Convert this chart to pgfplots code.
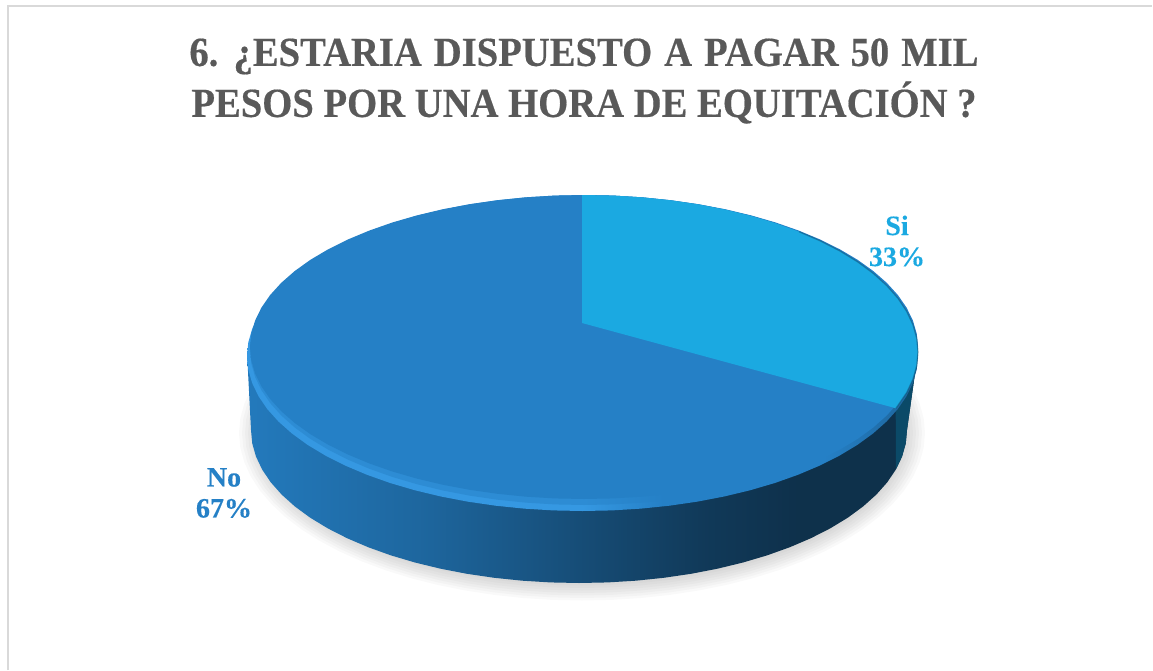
\documentclass[border=0pt]{standalone}
\usepackage{pgfplots}
\usepackage{pgfplotstable}
\usepackage{fontspec}
\pgfplotsset{compat=1.18}
\setmainfont{Liberation Serif}
\newfontfamily\titlefont[FakeStretch=0.935,FakeBold=0.4]{Liberation Serif}
\newfontfamily\labelfont[FakeBold=0.3]{Liberation Serif}

\definecolor{sicol}{HTML}{1BA9E1}
\definecolor{nocol}{HTML}{2580C6}
\definecolor{teal}{HTML}{0B4A68}
\definecolor{titlecol}{HTML}{595959}
\definecolor{framecol}{HTML}{D9D9D9}

% side wall of the pie, left to right (bbox maps on 25bp..75bp)
\pgfdeclarehorizontalshading{wall}{100bp}{
  color(0bp)=(black!0!nocol);
  color(25bp)=(black!5!nocol);
  color(38bp)=(black!20!nocol);
  color(51bp)=(black!42!nocol);
  color(59bp)=(black!55!nocol);
  color(66bp)=(black!62!nocol);
  color(100bp)=(black!62!nocol)}
% light rim of the top face, fades to the right
\definecolor{rimcol}{HTML}{3598E2}
\pgfdeclarehorizontalshading{rim}{100bp}{
  color(0bp)=(rimcol);
  color(25bp)=(rimcol);
  color(50bp)=(rimcol);
  color(56bp)=(nocol);
  color(68bp)=(nocol);
  color(76bp)=(black!25!nocol);
  color(100bp)=(black!25!nocol)}
\pgfdeclarehorizontalshading{rimsoft}{100bp}{
  color(0bp)=(rimcol!50!nocol);
  color(50bp)=(rimcol!50!nocol);
  color(56bp)=(nocol);
  color(100bp)=(nocol)}

% unit ellipse, 5 degree steps
\pgfplotstableread{
c s
1 0
.9962 .0872
.9848 .1736
.9659 .2588
.9397 .3420
.9063 .4226
.8660 .5
.8192 .5736
.7660 .6428
.7071 .7071
.6428 .7660
.5736 .8192
.5 .8660
.4226 .9063
.3420 .9397
.2588 .9659
.1736 .9848
.0872 .9962
0 1
-.0872 .9962
-.1736 .9848
-.2588 .9659
-.3420 .9397
-.4226 .9063
-.5 .8660
-.5736 .8192
-.6428 .7660
-.7071 .7071
-.7660 .6428
-.8192 .5736
-.8660 .5
-.9063 .4226
-.9397 .3420
-.9659 .2588
-.9848 .1736
-.9962 .0872
-1 0
-.9962 -.0872
-.9848 -.1736
-.9659 -.2588
-.9397 -.3420
-.9063 -.4226
-.8660 -.5
-.8192 -.5736
-.7660 -.6428
-.7071 -.7071
-.6428 -.7660
-.5736 -.8192
-.5 -.8660
-.4226 -.9063
-.3420 -.9397
-.2588 -.9659
-.1736 -.9848
-.0872 -.9962
0 -1
.0872 -.9962
.1736 -.9848
.2588 -.9659
.3420 -.9397
.4226 -.9063
.5 -.8660
.5736 -.8192
.6428 -.7660
.7071 -.7071
.7660 -.6428
.8192 -.5736
.8660 -.5
.9063 -.4226
.9397 -.3420
.9659 -.2588
.9848 -.1736
.9962 -.0872
}\ellipse

% Si slice, 33 %: apex, then the arc
\pgfplotstableread{
c s
-.009 -.1847
-.009 -1
.0872 -.9962
.1736 -.9848
.2588 -.9659
.3420 -.9397
.4226 -.9063
.5 -.8660
.5736 -.8192
.6428 -.7660
.7071 -.7071
.7660 -.6428
.8192 -.5736
.8660 -.5
.9063 -.4226
.9397 -.3420
.9659 -.2588
.9848 -.1736
.9962 -.0872
1 0
.9962 .0872
.9848 .1736
.9659 .2588
.9336 .3584
}\sislice

% dark edge along the Si arc
\pgfplotstableread{
c s
.6428 -.7660
.7071 -.7071
.7660 -.6428
.8192 -.5736
.8660 -.5
.9063 -.4226
.9397 -.3420
.9659 -.2588
.9848 -.1736
.9962 -.0872
1 0
.9962 .0872
.9848 .1736
.9659 .2588
.9336 .3584
}\siedge

% wall: z=0 top edge, z=1 bottom edge
\pgfplotstableread{
c s z
1 0 0
-1 0 0
-1 0 1
-.9962 .0872 1
-.9848 .1736 1
-.9659 .2588 1
-.9397 .3420 1
-.9063 .4226 1
-.8660 .5 1
-.8192 .5736 1
-.7660 .6428 1
-.7071 .7071 1
-.6428 .7660 1
-.5736 .8192 1
-.5 .8660 1
-.4226 .9063 1
-.3420 .9397 1
-.2588 .9659 1
-.1736 .9848 1
-.0872 .9962 1
0 1 1
.0872 .9962 1
.1736 .9848 1
.2588 .9659 1
.3420 .9397 1
.4226 .9063 1
.5 .8660 1
.5736 .8192 1
.6428 .7660 1
.7071 .7071 1
.7660 .6428 1
.8192 .5736 1
.8660 .5 1
.9063 .4226 1
.9397 .3420 1
.9659 .2588 1
.9848 .1736 1
.9962 .0872 1
1 0 1
}\wallall

\pgfplotstableread{
c s z
1 0 0
.9336 .3584 0
.9659 .2588 1
.9848 .1736 1
.9962 .0872 1
1 0 1
}\wallsi

\begin{document}
\begin{tikzpicture}
\begin{axis}[
  scale only axis,
  width=864.75pt,
  height=503.25pt,
  xmin=0, xmax=1153,
  ymin=0, ymax=671,
  y dir=reverse,
  hide axis,
  no markers,
  every axis plot/.append style={forget plot},
]
% keeps the whole axis box in the picture
\path (rel axis cs:0,0) rectangle (rel axis cs:1,1);

% frame
\addplot[framecol, line width=1.5pt] coordinates {(8,670) (8,6) (1152,6)};

% soft shadow
\pgfplotsinvokeforeach{0,1,2,3,4,5,6,7}{
  \addplot[fill=black, fill opacity=0.022, draw=none]
    table[x expr=582+(322+3*#1)*\thisrow{c}, y expr=433+(150+2.5*#1)*\thisrow{s}] {\ellipse};
}

% side wall
\addplot[draw=none, shade, shading=wall]
  table[x expr=582.5-(3.5*\thisrow{z})+(335.5-7.5*\thisrow{z})*\thisrow{c},
        y expr=352+78*\thisrow{z}+(158-5*\thisrow{z})*\thisrow{s}] {\wallall};
\addplot[fill=teal, draw=none]
  table[x expr=582.5-(3.5*\thisrow{z})+(335.5-7.5*\thisrow{z})*\thisrow{c},
        y expr=352+78*\thisrow{z}+(158-5*\thisrow{z})*\thisrow{s}] {\wallsi};

% rim and top face
\addplot[draw=none, shade, shading=rim]
  table[x expr=582.5+335.5*\thisrow{c}, y expr=356+155*\thisrow{s}] {\ellipse};
\addplot[draw=none, shade, shading=rimsoft]
  table[x expr=584+334*\thisrow{c}, y expr=350+155*\thisrow{s}] {\ellipse};
\addplot[fill=nocol, draw=none]
  table[x expr=584+334*\thisrow{c}, y expr=347+152*\thisrow{s}] {\ellipse};
\addplot[fill=sicol, draw=none]
  table[x expr=585+333*\thisrow{c}, y expr=352+157*\thisrow{s}] {\sislice};
\addplot[teal, opacity=0.45, line width=0.9pt]
  table[x expr=585+333*\thisrow{c}, y expr=352+157*\thisrow{s}] {\siedge};

% texts
\node[text=titlecol, font=\titlefont\fontsize{31}{38.25}\selectfont\bfseries, align=center]
  at (axis cs:584,81) {6.\hspace{1.75pt} ¿ESTARIA\hspace{1.75pt} DISPUESTO\hspace{1.75pt} A\hspace{1.75pt} PAGAR\hspace{1.75pt} 50\hspace{1.75pt} MIL\\PESOS POR UNA HORA DE EQUITACIÓN ?};
\node[text=sicol, font=\labelfont\fontsize{21}{23.25}\selectfont\bfseries, align=center]
  at (axis cs:897,241) {Si\\33\%};
\node[text=nocol, font=\labelfont\fontsize{21}{23.25}\selectfont\bfseries, align=center]
  at (axis cs:224,493) {No\\67\%};
\end{axis}
\end{tikzpicture}
\end{document}
